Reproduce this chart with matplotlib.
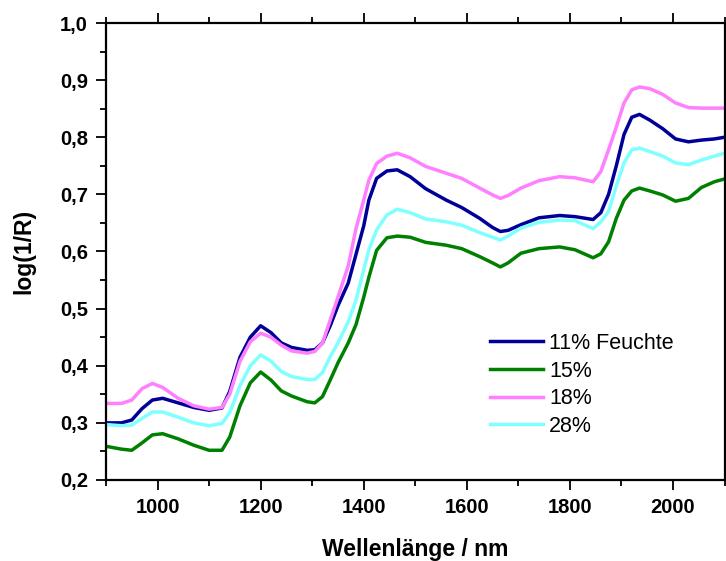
import numpy as np
import matplotlib
matplotlib.use('Agg')
import matplotlib.pyplot as plt
from matplotlib.ticker import MultipleLocator, FuncFormatter

plt.rcParams['font.family'] = ['Liberation Sans', 'DejaVu Sans']

# wavelengths (nm)
wl = [900, 930, 950, 970, 990, 1010, 1040, 1070, 1100, 1125, 1140, 1160, 1180,
      1200, 1220, 1240, 1260, 1290, 1305, 1320, 1335, 1350, 1370, 1385, 1400,
      1410, 1425, 1445, 1465, 1490, 1520, 1560, 1590, 1625, 1650, 1665, 1680,
      1705, 1740, 1780, 1810, 1845, 1860, 1875, 1890, 1905, 1920, 1935, 1955,
      1980, 2005, 2030, 2055, 2080, 2100]

f11 = [0.300, 0.300, 0.305, 0.325, 0.340, 0.343, 0.335, 0.327, 0.322, 0.326,
       0.355, 0.415, 0.450, 0.470, 0.458, 0.440, 0.432, 0.427, 0.428, 0.440,
       0.470, 0.505, 0.545, 0.595, 0.645, 0.690, 0.728, 0.741, 0.743, 0.731,
       0.710, 0.690, 0.677, 0.658, 0.642, 0.635, 0.637, 0.647, 0.659, 0.663,
       0.661, 0.656, 0.668, 0.700, 0.750, 0.805, 0.835, 0.840, 0.830, 0.815,
       0.797, 0.792, 0.795, 0.797, 0.800]

f15 = [0.259, 0.254, 0.252, 0.265, 0.279, 0.281, 0.272, 0.261, 0.252, 0.252,
       0.275, 0.330, 0.370, 0.389, 0.375, 0.356, 0.347, 0.337, 0.335, 0.346,
       0.375, 0.405, 0.440, 0.472, 0.520, 0.555, 0.602, 0.624, 0.627, 0.625,
       0.616, 0.611, 0.605, 0.591, 0.580, 0.573, 0.580, 0.597, 0.605, 0.608,
       0.603, 0.589, 0.596, 0.617, 0.658, 0.690, 0.706, 0.711, 0.706, 0.699,
       0.688, 0.693, 0.712, 0.722, 0.727]

f18 = [0.334, 0.334, 0.340, 0.360, 0.369, 0.362, 0.343, 0.330, 0.324, 0.327,
       0.350, 0.408, 0.442, 0.457, 0.450, 0.436, 0.426, 0.422, 0.425, 0.440,
       0.480, 0.520, 0.575, 0.640, 0.690, 0.725, 0.754, 0.767, 0.772, 0.764,
       0.749, 0.737, 0.728, 0.711, 0.699, 0.693, 0.698, 0.711, 0.724, 0.731,
       0.729, 0.722, 0.740, 0.778, 0.818, 0.860, 0.883, 0.888, 0.885, 0.875,
       0.860, 0.852, 0.851, 0.851, 0.851]

f28 = [0.297, 0.295, 0.296, 0.308, 0.319, 0.319, 0.310, 0.300, 0.295, 0.299,
       0.318, 0.365, 0.400, 0.419, 0.408, 0.390, 0.381, 0.376, 0.376, 0.388,
       0.416, 0.440, 0.477, 0.515, 0.568, 0.603, 0.638, 0.664, 0.674, 0.668,
       0.657, 0.652, 0.646, 0.633, 0.625, 0.620, 0.627, 0.641, 0.651, 0.655,
       0.654, 0.640, 0.652, 0.670, 0.715, 0.755, 0.778, 0.781, 0.775, 0.767,
       0.755, 0.752, 0.760, 0.767, 0.772]

labels = ['11% Feuchte', '15%', '18%', '28%']
colors = ['#000099', '#008000', '#ff80ff', '#80ffff']

fig = plt.figure(figsize=(7.26, 5.61), dpi=100)
ax = fig.add_axes([0.146, 0.1444, 0.852, 0.8146])

for y, lab, c in zip([f11, f15, f18, f28], labels, colors):
    ax.plot(wl, y, color=c, lw=2.5, label=lab)

ax.set_xlim(900, 2100)
ax.set_ylim(0.2, 1.0)
ax.xaxis.set_major_locator(MultipleLocator(200))
ax.xaxis.set_minor_locator(MultipleLocator(100))
ax.yaxis.set_major_locator(MultipleLocator(0.1))
ax.yaxis.set_minor_locator(MultipleLocator(0.05))
ax.yaxis.set_major_formatter(FuncFormatter(lambda v, p: f"{v:.1f}".replace('.', ',')))
ax.xaxis.set_major_formatter(FuncFormatter(lambda v, p: f"{v:.0f}"))

ax.tick_params(which='both', direction='out', top=True, right=False, width=1.3)
ax.tick_params(which='major', length=7.5, labelsize=14.5, pad=5.5)
ax.tick_params(which='minor', length=4.5)
for lbl in ax.get_xticklabels() + ax.get_yticklabels():
    lbl.set_fontweight('bold')
for s in ax.spines.values():
    s.set_linewidth(1.6)

ax.set_xlabel('Wellenlänge / nm', fontsize=16.5, fontweight='bold', labelpad=15)
ax.set_ylabel('log(1/R)', fontsize=16.5, fontweight='bold', labelpad=18)

ax.legend(loc='upper left', bbox_to_anchor=(0.621, 0.322), frameon=False,
          fontsize=15.5, handlelength=2.45, handletextpad=0.3,
          labelspacing=0.31, borderpad=0, borderaxespad=0)

fig.savefig('out.png', dpi=100)
